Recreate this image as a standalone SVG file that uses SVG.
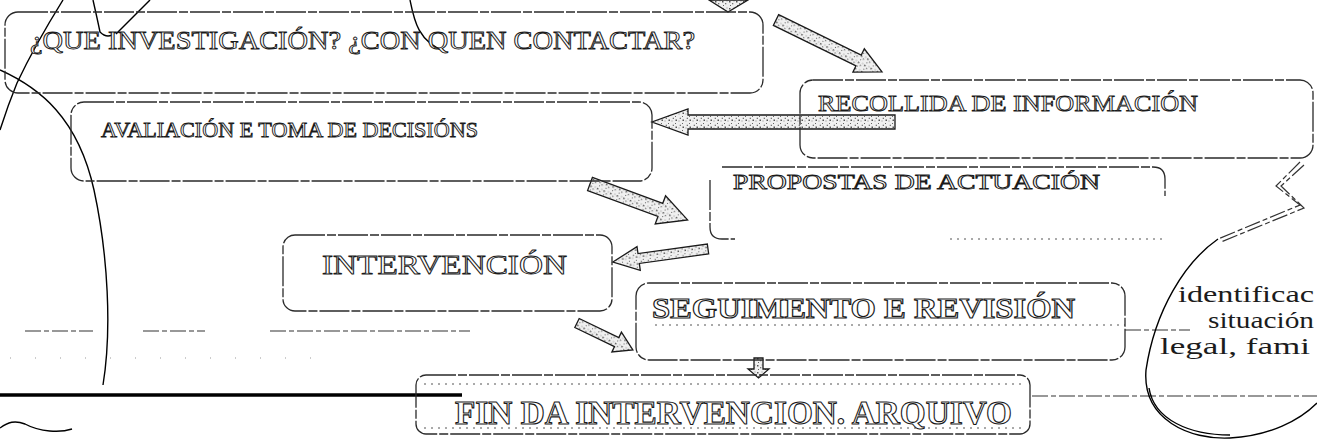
<svg xmlns="http://www.w3.org/2000/svg" width="1317" height="443" viewBox="0 0 1317 443">
<style>
.box{fill:none;stroke:#2a2a2a;stroke-width:1.3;stroke-dasharray:30 2 9 2}
.t{font-family:"Liberation Serif","Times New Roman",serif;fill:#fff;stroke:#1a1a1a;stroke-width:0.9}
.tb{font-family:"Liberation Serif","Times New Roman",serif;font-weight:bold;fill:#fff;stroke:#1a1a1a;stroke-width:1.1}
.plain{font-family:"Liberation Serif","Times New Roman",serif;fill:#1c1c1c;font-size:24px}
.arr{fill:url(#stip);stroke:#1a1a1a;stroke-width:1.3;stroke-linejoin:miter}
.ln{fill:none;stroke:#000;stroke-width:1.4}
.dl{fill:none;stroke:#333;stroke-width:1.2;stroke-dasharray:16 3 5 3}
.dot{fill:none;stroke:#555;stroke-width:1;stroke-dasharray:2 5}
.spk{fill:none;stroke:#999;stroke-width:1;stroke-dasharray:1 24}
</style>
<defs>
<pattern id="stip" width="7" height="7" patternUnits="userSpaceOnUse">
<rect width="7" height="7" fill="#f0f0f0"/>
<rect x="1" y="1" width="1.5" height="1.5" fill="#555"/>
<rect x="4" y="3" width="1.3" height="1.3" fill="#777"/>
<rect x="2" y="5" width="1" height="1" fill="#666"/>
<rect x="5.5" y="0.5" width="1" height="1" fill="#888"/>
</pattern>
</defs>
<rect width="1317" height="443" fill="#fff"/>

<g id="connectors">
<path class="arr" d="M709,0 L748,0 L728,12 Z"/>
<path class="arr" transform="translate(776,20) rotate(26.1)" d="M0,-6 L92,-6 L92,-13 L118,0 L92,13 L92,6 L0,6 Z"/>
<path class="arr" transform="translate(895,122) rotate(180)" d="M0,-7 L207,-7 L207,-13 L243,0 L207,13 L207,7 L0,7 Z"/>
<path class="arr" transform="translate(590,184) rotate(20.2)" d="M0,-7 L75,-7 L75,-15 L104,0 L75,15 L75,7 L0,7 Z"/>
<path class="arr" transform="translate(708,249) rotate(172.2)" d="M0,-5 L70,-5 L70,-12 L96,0 L70,12 L70,5 L0,5 Z"/>
<path class="arr" transform="translate(577,323) rotate(25.7)" d="M0,-5 L44,-5 L44,-11 L62,0 L44,11 L44,5 L0,5 Z"/>
<path class="arr" d="M754,358 L763,358 L763,369 L769,369 L758.5,378 L748,369 L754,369 Z"/>
</g>

<g id="lines">
<path class="ln" d="M63,0 Q35,45 17,83 Q8,105 0,130"/>
<path class="ln" d="M0,70 C40,88 78,118 94,190 C108,255 112,330 103,385"/>
<path class="ln" d="M93,0 Q98,22 100,32 Q106,38 112,35"/>
<path class="ln" d="M150,0 L116,34"/>
<path class="ln" d="M410,0 C414,20 418,42 446,52"/>
<path class="ln" d="M0,428 C8,422 15,420 25,424 C40,432 60,433 72,429"/>
<path d="M0,395 L462,395" stroke="#000" stroke-width="3.5"/>
<path class="dl" d="M25,331 L93,331 M143,331 L205,331 M270,331 L470,331"/>
<path class="spk" d="M10,358 L330,358"/>
<path class="dot" d="M655,325 L1125,325"/>
<path class="dl" d="M1125,330 L1190,330"/>
<path class="dl" d="M1032,396 L1317,396"/>
<path class="dl" d="M1300,162 L1276,186 L1300,205 L1218,239"/>
<path class="dl" d="M1304,165 L1281,186 L1304,208 L1221,242"/>
<path class="ln" d="M1218,239 C1185,262 1155,310 1146,370 C1142,420 1190,440 1230,438 C1270,436 1300,420 1317,403" stroke-width="1.2"/>
<path class="ln" d="M1149,388 C1154,420 1190,435 1230,435" stroke-width="0.9"/>
</g>

<g id="n1">
<rect class="box" x="5" y="12" width="758" height="81" rx="13"/>
<text class="t" x="30" y="49" font-size="25" textLength="665" lengthAdjust="spacingAndGlyphs">¿QUE INVESTIGACIÓN? ¿CON QUEN CONTACTAR?</text>
</g>
<g id="n2">
<rect class="box" x="71" y="102" width="581" height="79" rx="13"/>
<text class="t" x="101" y="137" font-size="21" textLength="377" lengthAdjust="spacingAndGlyphs">AVALIACIÓN E TOMA DE DECISIÓNS</text>
</g>
<g id="n3">
<rect class="box" x="800" y="80" width="513" height="78" rx="13"/>
<text class="t" x="818" y="111" font-size="23" textLength="380" lengthAdjust="spacingAndGlyphs">RECOLLIDA DE INFORMACIÓN</text>
</g>
<g id="n4">
<path class="box" d="M722,167 L1153,167 Q1165,167 1165,179 L1165,196 M710,180 L710,227 Q710,239 722,239 L735,239"/>
<path class="dot" d="M950,239 L1165,239"/>
<text class="t" x="733" y="189" font-size="20" textLength="367" lengthAdjust="spacingAndGlyphs">PROPOSTAS DE ACTUACIÓN</text>
</g>
<g id="n5">
<rect class="box" x="283" y="235" width="329" height="76" rx="12"/>
<text class="t" x="322" y="274" font-size="27" textLength="245" lengthAdjust="spacingAndGlyphs">INTERVENCIÓN</text>
</g>
<g id="n6">
<rect class="box" x="636" y="283" width="489" height="77" rx="13"/>
<text class="tb" x="652" y="318" font-size="29" textLength="423" lengthAdjust="spacingAndGlyphs">SEGUIMENTO E REVISIÓN</text>
</g>
<g id="n7">
<rect class="box" x="416" y="375" width="614" height="59" rx="10"/>
<path class="dot" d="M424,384 L1022,384 M424,428 L1022,428"/>
<text class="tb" x="455" y="424" font-size="33" textLength="557" lengthAdjust="spacingAndGlyphs">FIN DA INTERVENCION. ARQUIVO</text>
</g>
<g id="n8">
<text class="plain" x="1178" y="302" textLength="136" lengthAdjust="spacingAndGlyphs">identificac</text>
<text class="plain" x="1208" y="328" textLength="106" lengthAdjust="spacingAndGlyphs">situación</text>
<text class="plain" x="1160" y="354" textLength="150" lengthAdjust="spacingAndGlyphs">legal, fami</text>
</g>
</svg>
